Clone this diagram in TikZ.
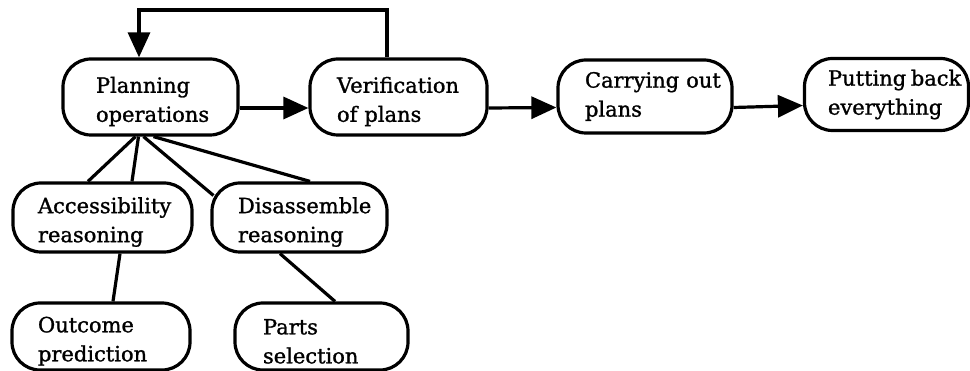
\documentclass[tikz,border=0pt]{standalone}
\usepackage{fontspec}
\setmainfont{DejaVu Serif}[FakeBold=1.2]
\usetikzlibrary{arrows.meta,calc}
\newcommand{\oneline}[1]{\mbox{#1}}
\newcommand{\lowerstrut}{\rule{0pt}{25pt}}
\begin{document}
\begin{tikzpicture}[x=1pt,y=-1pt,
  box/.style={draw,line width=3.2pt,rounded corners=28pt,align=left,inner ysep=0pt,
    font=\fontsize{21}{29}\selectfont},
  conn/.style={line width=3.2pt},
  arr/.style={line width=3.2pt,-{Triangle[length=25pt,width=22pt]}}]
\useasboundingbox (0,0) rectangle (970,371);
\node[box,text width=109pt,inner xsep=33pt,minimum height=76pt] (plan) at (150.5,97) {\lowerstrut\oneline{Planning}\\\oneline{operations}};
\node[box,text width=123pt,inner xsep=27pt,minimum height=76pt] (verif) at (398.5,97) {\lowerstrut\oneline{Verification}\\\oneline{of plans}};
\node[box,text width=120pt,inner xsep=27pt,minimum height=73pt] (carry) at (645,96.5) {\oneline{Carrying out}\\\oneline{plans}};
\node[box,text width=117pt,inner xsep=23.5pt,minimum height=72pt] (putb) at (886.5,94.5) {\oneline{Putting\hspace{0.22em}back}\\\oneline{everything}};
\node[box,text width=129pt,inner xsep=25pt,minimum height=69pt] (acc) at (102.5,217.5) {\lowerstrut\oneline{Accessibility}\\\oneline{reasoning}};
\node[box,text width=123pt,inner xsep=26pt,minimum height=69pt] (dis) at (299.5,217.5) {\lowerstrut\oneline{Disassemble}\\\oneline{reasoning}};
\node[box,text width=126pt,inner xsep=26pt,minimum height=67pt] (out) at (101,336.5) {\lowerstrut\oneline{Outcome}\\\oneline{prediction}};
\node[box,text width=117pt,inner xsep=28pt,minimum height=67pt] (parts) at (321.5,336.5) {\lowerstrut\oneline{Parts}\\\oneline{selection}};
% main flow
\draw[arr] ($(plan.east)+(0,11)$) -- ($(verif.west)+(0,11)$);
\draw[arr] ($(verif.east)+(0,11)$) -- ($(carry.west)+(0,11)$);
\draw[arr] ($(carry.east)+(0,11)$) -- ($(putb.west)+(0,11)$);
% feedback loop
\coordinate (fbR) at (387,10);
\coordinate (fbL) at (139,10);
\draw[arr] (fbR |- verif.north) -- (fbR) -- (fbL) -- (fbL |- plan.north);
% sub-activities
\draw[conn] ($(plan.south)+(-15,0)$) -- ($(acc.north)+(-14.5,0)$);
\draw[conn] ($(plan.south)+(-12,0)$) -- ($(acc.north)+(29.5,0)$);
\draw[conn] ($(plan.south)+(-7,0)$) -- ($(dis.center)+(-86,-22)$);
\draw[conn] ($(plan.south)+(3,0)$) -- ($(dis.north)+(10.5,0)$);
\draw[conn] ($(acc.south)+(17.5,0)$) -- ($(out.north)+(12,0)$);
\draw[conn] ($(dis.south)+(-19.5,0)$) -- ($(parts.north)+(13.5,0)$);
\end{tikzpicture}
\end{document}
